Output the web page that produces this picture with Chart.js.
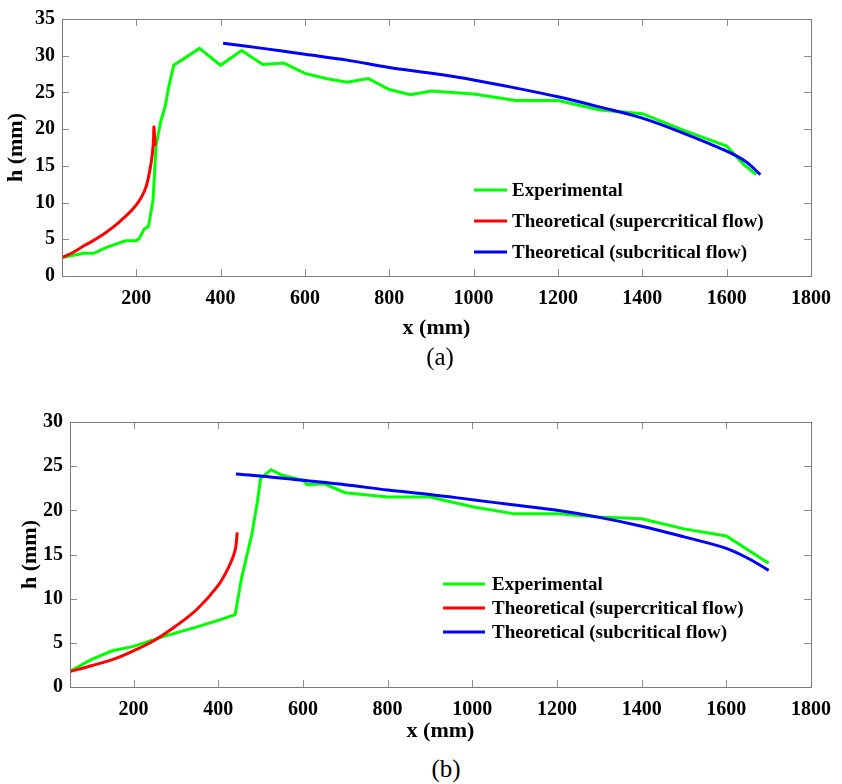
<!DOCTYPE html>
<html>
<head>
<meta charset="utf-8">
<script src="https://cdn.jsdelivr.net/npm/chart.js@4.4.1/dist/chart.umd.min.js"></script>
<style>
  body { margin: 0; background: #fff; }
  #wrap { position: relative; width: 842px; height: 784px; overflow: hidden; }
  canvas { position: absolute; left: 0; }
  .cap { position: absolute; font-family: "Liberation Serif", serif; font-size: 25px; color: #000; transform: translate(-50%, -50%); }
</style>
</head>
<body>
<div id="wrap">
  <canvas id="chartA" width="842" height="345" style="top:0"></canvas>
  <canvas id="chartB" width="842" height="350" style="top:400px"></canvas>
  <div class="cap" style="left:440px; top:357px">(a)</div>
  <div class="cap" style="left:446px; top:769px">(b)</div>
</div>
<script>
// ---- (a) ----
const expA_x = [24, 75, 100, 125, 150, 175, 200, 207, 219, 229, 240, 247, 258, 269, 278, 289, 350, 400, 450, 500, 550, 600, 650, 700, 750, 800, 850, 900, 1000, 1100, 1200, 1300, 1400, 1500, 1600, 1640, 1670];
const expA_h = [2.5, 3.1, 3.1, 3.8, 4.3, 4.8, 4.8, 5.1, 6.4, 6.75, 10.4, 17.8, 21.0, 23.2, 26.0, 28.7, 31.0, 28.7, 30.7, 28.8, 29.0, 27.6, 26.9, 26.4, 26.9, 25.4, 24.7, 25.2, 24.8, 23.9, 23.9, 22.6, 22.1, 19.8, 17.7, 15.2, 13.8];
const superA_x = [24, 50, 74, 90, 113, 130, 152, 170, 191, 211, 223, 232, 238, 241, 242, 245];
const superA_h = [2.5, 3.2, 4.05, 4.55, 5.35, 6.0, 6.96, 7.9, 9.05, 10.6, 12.1, 14.3, 16.5, 18.6, 20.3, 17.7];
const subA_x = [406, 500, 600, 700, 800, 900, 1000, 1100, 1200, 1300, 1400, 1500, 1600, 1645, 1680];
const subA_h = [31.7, 31.0, 30.2, 29.4, 28.4, 27.6, 26.7, 25.6, 24.4, 23.0, 21.5, 19.4, 17.0, 15.6, 13.8];

// ---- (b) ----
const expB_x = [50, 100, 150, 200, 270, 350, 400, 440, 455, 480, 493, 500, 525, 550, 600, 610, 650, 700, 800, 900, 1000, 1100, 1200, 1300, 1400, 1500, 1600, 1700];
const expB_h = [1.8, 3.1, 4.1, 4.6, 5.7, 6.8, 7.55, 8.2, 12.3, 17.4, 21.1, 23.6, 24.6, 24.0, 23.4, 22.9, 23.0, 22.0, 21.5, 21.5, 20.4, 19.6, 19.6, 19.25, 19.05, 17.9, 17.1, 14.0];
const superB_x = [50, 100, 150, 200, 250, 300, 350, 400, 425, 440, 445];
const superB_h = [1.75, 2.4, 3.1, 4.1, 5.3, 6.9, 8.8, 11.5, 13.6, 15.5, 17.5];
const subB_x = [442, 500, 600, 700, 800, 900, 1000, 1100, 1200, 1300, 1400, 1500, 1600, 1650, 1700];
const subB_h = [24.1, 23.9, 23.4, 22.9, 22.3, 21.8, 21.2, 20.6, 20.0, 19.2, 18.2, 17.0, 15.7, 14.6, 13.2];

const xTicks = [200, 400, 600, 800, 1000, 1200, 1400, 1600, 1800];
const seriesNames = ['Experimental', 'Theoretical (supercritical flow)', 'Theoretical (subcritical flow)'];
const seriesColors = ['#00ff00', '#ff0000', '#0000ff'];

const serif = '"Liberation Serif", "Times New Roman", serif';

function pts(xs, ys) {
    return xs.map((x, i) => ({ x: x, y: ys[i] }));
}

// box + inward tick marks on all four sides, MATLAB style
const boxTicks = {
    id: 'boxTicks',
    afterDatasetsDraw(chart) {
        const { ctx, chartArea: a, scales } = chart;
        const len = 7;
        ctx.save();
        ctx.strokeStyle = '#8c8c8c';
        ctx.lineWidth = 1;
        ctx.beginPath();
        scales.x.ticks.forEach(t => {
            const px = Math.round(scales.x.getPixelForValue(t.value)) + 0.5;
            ctx.moveTo(px, a.bottom); ctx.lineTo(px, a.bottom - len);
            ctx.moveTo(px, a.top); ctx.lineTo(px, a.top + len);
        });
        scales.y.ticks.forEach(t => {
            const py = Math.round(scales.y.getPixelForValue(t.value)) + 0.5;
            ctx.moveTo(a.left, py); ctx.lineTo(a.left + len, py);
            ctx.moveTo(a.right, py); ctx.lineTo(a.right - len, py);
        });
        ctx.stroke();
        ctx.strokeStyle = '#7a7a7a';
        ctx.strokeRect(Math.round(a.left) + 0.5, Math.round(a.top) + 0.5, Math.round(a.right - a.left), Math.round(a.bottom - a.top));
        ctx.restore();
    }
};

// legend drawn inside the plot area
const insideLegend = {
    id: 'insideLegend',
    afterDraw(chart, args, opts) {
        const ctx = chart.ctx;
        ctx.save();
        ctx.font = 'bold 19px ' + serif;
        ctx.textBaseline = 'middle';
        ctx.fillStyle = '#000';
        chart.data.datasets.forEach((ds, i) => {
            const y = opts.y + i * opts.rowGap;
            ctx.strokeStyle = ds.borderColor;
            ctx.lineWidth = 3;
            ctx.beginPath();
            ctx.moveTo(opts.x, y);
            ctx.lineTo(opts.x + opts.lineLen, y);
            ctx.stroke();
            ctx.fillText(ds.label, opts.x + opts.lineLen + opts.gap, y + 1);
        });
        ctx.restore();
    }
};

function makeChart(id, cfg) {
    const tickFont = { family: serif, size: 20, weight: 'bold' };
    const titleFont = { family: serif, size: 22, weight: 'bold' };
    return new Chart(document.getElementById(id), {
        type: 'scatter',
        data: {
            datasets: cfg.series.map((s, i) => ({
                label: seriesNames[i],
                data: s,
                showLine: true,
                borderColor: seriesColors[i],
                backgroundColor: seriesColors[i],
                borderWidth: 3,
                pointRadius: 0,
                tension: i === 0 ? 0 : 0.35,
                order: 2 - i
            }))
        },
        options: {
            responsive: false,
            animation: false,
            layout: { padding: cfg.padding },
            plugins: {
                legend: { display: false },
                tooltip: { enabled: false },
                insideLegend: cfg.legend
            },
            scales: {
                x: {
                    type: 'linear',
                    min: cfg.xMin,
                    max: 1800,
                    afterBuildTicks: s => { s.ticks = xTicks.map(v => ({ value: v })); },
                    afterFit: s => { s.height = cfg.xAxisHeight; },
                    grid: { display: false, drawTicks: false },
                    border: { display: false },
                    ticks: { font: tickFont, color: '#000', padding: 11, autoSkip: false, maxRotation: 0, callback: v => String(v) },
                    title: { display: true, text: 'x (mm)', font: titleFont, color: '#000', padding: { top: 0, bottom: cfg.xTitlePad } }
                },
                y: {
                    min: 0,
                    max: cfg.yMax,
                    afterFit: s => { s.width = cfg.yAxisWidth; },
                    grid: { display: false, drawTicks: false },
                    border: { display: false },
                    ticks: { stepSize: 5, font: tickFont, color: '#000', padding: 7, callback: v => String(v) },
                    title: { display: true, text: 'h (mm)', font: titleFont, color: '#000', padding: { top: cfg.yTitlePad, bottom: 0 } }
                }
            }
        },
        plugins: [boxTicks, insideLegend]
    });
}

makeChart('chartA', {
    series: [pts(expA_x, expA_h), pts(superA_x, superA_h), pts(subA_x, subA_h)],
    padding: { left: 0, top: 8, right: 24, bottom: 0 },
    xMin: 24, yMax: 35,
    xAxisHeight: 69, xTitlePad: 3,
    yAxisWidth: 62, yTitlePad: 3,
    legend: { x: 474, y: 190, rowGap: 31, lineLen: 33, gap: 5 }
});

makeChart('chartB', {
    series: [pts(expB_x, expB_h), pts(superB_x, superB_h), pts(subB_x, subB_h)],
    padding: { left: 0, top: 22, right: 25, bottom: 0 },
    xMin: 50, yMax: 30,
    xAxisHeight: 63, xTitlePad: 5,
    yAxisWidth: 70, yTitlePad: 17,
    legend: { x: 443, y: 184, rowGap: 24, lineLen: 42, gap: 7 }
});
</script>
</body>
</html>
